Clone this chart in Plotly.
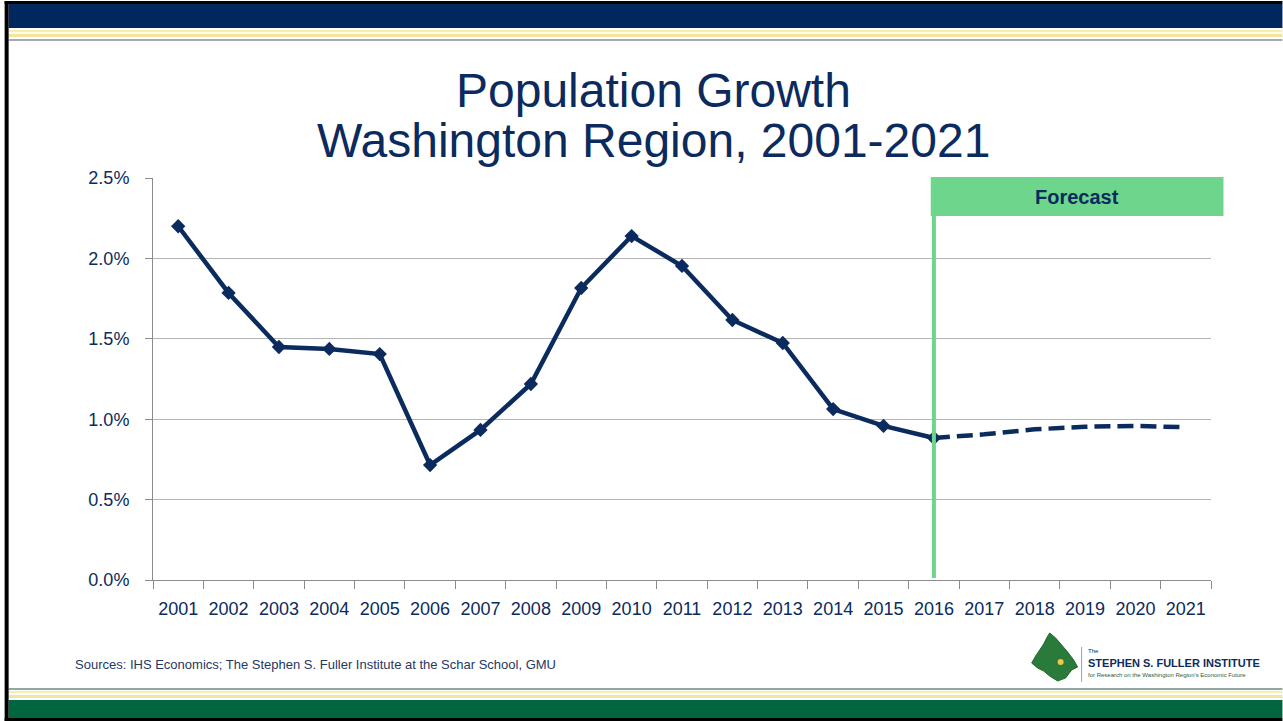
import plotly.graph_objects as go

# ---- data ----
years = [str(y) for y in range(2001, 2022)]
hist_years = [str(y) for y in range(2001, 2017)]
hist_growth = [0.0220, 0.01785, 0.01449, 0.01437, 0.01405, 0.00715, 0.00933, 0.01219,
               0.01816, 0.02139, 0.01953, 0.01617, 0.01474, 0.01063, 0.00958, 0.00883]
fc_years = [str(y) for y in range(2016, 2022)]
fc_growth = [0.00883, 0.00906, 0.00937, 0.00953, 0.00958, 0.00950]
y_ticks = [0, 0.005, 0.01, 0.015, 0.02, 0.025]

NAVY = "#0B2B5E"
W, H = 1283, 721
L, R, T, B = 152.5, 1211.5, 178, 580


def px(x):
    return (x - L) / (R - L)


def py(y):
    return (B - y) / (B - T)


def rect(x0, y0, x1, y1, color, layer="below"):
    return dict(type="rect", xref="paper", yref="paper",
                x0=px(x0), x1=px(x1), y0=py(y1), y1=py(y0),
                fillcolor=color, line=dict(width=0), layer=layer)


def label(text, x, y, size, family="Liberation Sans, Arial", color=NAVY, xanchor="center"):
    return dict(text=text, x=px(x), y=py(y), xref="paper", yref="paper",
                xanchor=xanchor, yanchor="middle", showarrow=False,
                font=dict(family=family, size=size, color=color))


fig = go.Figure()
fig.add_trace(go.Scatter(
    x=fc_years, y=fc_growth, mode="lines",
    line=dict(color=NAVY, width=4.5, dash="16px,7px"),
    hoverinfo="skip", showlegend=False))
fig.add_trace(go.Scatter(
    x=hist_years, y=hist_growth, mode="lines+markers",
    line=dict(color=NAVY, width=4.5),
    marker=dict(symbol="diamond", size=11, color=NAVY),
    showlegend=False))

shapes = [
    # frame & banners
    rect(4, 1, W, 4, "#000000"),
    rect(8, 4, W, 28, "#00285E"),
    rect(8, 30, W, 32, "#F7ECB2"),
    rect(8, 32, W, 34, "#FFFBE8"),
    rect(8, 34, W, 37, "#F2E5A2"),
    rect(8, 39, W, 41, "#A3ABB3"),
    rect(8, 688, W, 690, "#8FA89A"),
    rect(8, 691, W, 693, "#F7ECB2"),
    rect(8, 695, W, 698, "#F2E5A2"),
    rect(8, 700, W, 718, "#00663F"),
    rect(4, 718, W, 721, "#000000"),
    rect(4, 1, 8, 721, "#000000"),
    # forecast marker line and box
    dict(type="line", xref="x", yref="paper", x0=15, x1=15,
         y0=py(578), y1=py(216), line=dict(color="#6DD58C", width=4), layer="above"),
    dict(type="rect", xref="paper", yref="paper", x0=px(931), x1=px(1224),
         y0=py(216), y1=py(177), fillcolor="#6DD58C", line=dict(width=0), layer="above"),
    # logo separator
    dict(type="line", xref="paper", yref="paper", x0=px(1082), x1=px(1082),
         y0=py(647), y1=py(682), line=dict(color="#9AA3AD", width=1)),
]

# logo map shape (decorative)
logo_pts = [(1050, 633), (1056, 638), (1062, 645), (1068, 652), (1074, 660), (1078, 667),
            (1072, 670), (1066, 678), (1058, 681), (1050, 676), (1044, 671), (1038, 668),
            (1032, 663), (1036, 656), (1040, 650), (1044, 644), (1047, 638)]
path = "M " + " L ".join(f"{px(x):.5f},{py(y):.5f}" for x, y in logo_pts) + " Z"
shapes.append(dict(type="path", xref="paper", yref="paper", path=path,
                   fillcolor="#2A7A3B", line=dict(color="#1F6B30", width=1)))
shapes.append(dict(type="circle", xref="paper", yref="paper",
                   x0=px(1058), x1=px(1064), y0=py(665), y1=py(659),
                   fillcolor="#F2C744", line=dict(width=0)))

annotations = [
    label("Population Growth", 653, 90, 48),
    label("Washington Region, 2001-2021", 653, 141, 48),
    label("<b>Forecast</b>", 1077, 197, 20),
    label("Sources: IHS Economics; The Stephen S. Fuller Institute at the Schar School, GMU",
          72, 664, 13, color="#1F3864", xanchor="left"),
    label("The", 1086, 651, 6, xanchor="left"),
    label("<b>STEPHEN S. FULLER INSTITUTE</b>", 1086, 663, 11, xanchor="left"),
    label("for Research on the Washington Region's Economic Future", 1086, 675, 6,
          color="#1F5E3A", xanchor="left"),
]

fig.update_layout(
    width=W, height=H,
    margin=dict(l=L, r=W - R, t=T, b=H - B, pad=0),
    paper_bgcolor="white", plot_bgcolor="white",
    shapes=shapes, annotations=annotations,
    font=dict(family="Liberation Sans, Arial", size=18, color=NAVY),
    xaxis=dict(type="category", categoryorder="array", categoryarray=years,
               tickmode="array", tickvals=years, ticktext=years,
               tickson="boundaries", ticks="outside", ticklen=8, tickcolor="#8C8C8C",
               showline=True, linecolor="#8C8C8C", linewidth=1, showgrid=False,
               ticklabelstandoff=12,
               tickfont=dict(size=18, color=NAVY), range=[-0.5, 20.5]),
    yaxis=dict(range=[0, 0.025], tickvals=y_ticks, tickformat=".1%",
               ticks="outside", ticklen=7, tickcolor="#8C8C8C",
               showline=True, linecolor="#8C8C8C", linewidth=1,
               showgrid=True, gridcolor="#B4B4B4", gridwidth=1, zeroline=False,
               ticklabelstandoff=12,
               tickfont=dict(size=18, color=NAVY)),
)

fig.write_html("out.html", config={"displayModeBar": False},
               post_script="document.body.style.margin='0';document.body.style.overflow='hidden';")
